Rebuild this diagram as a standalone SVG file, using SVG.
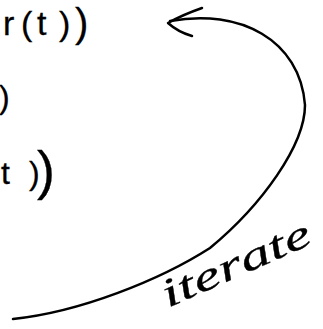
<svg xmlns="http://www.w3.org/2000/svg" width="323" height="329" viewBox="0 0 323 329">
<style>
.hand{font-family:"Liberation Sans","DejaVu Sans",sans-serif;fill:#000;stroke:#000;stroke-width:0.3}
.cur{font-family:"Liberation Serif","DejaVu Serif",serif;font-style:italic;fill:#000;stroke:#000;stroke-width:0.3}
.line{fill:none;stroke:#000;stroke-width:2.5;stroke-linecap:round;stroke-linejoin:round}
</style>
<rect width="323" height="329" fill="#fff"/>
<g id="expr-top">
<text class="hand" font-size="34" x="3 21 37 59" y="35">r(t)<tspan font-size="40" x="75" y="37">)</tspan></text>
</g>
<g id="expr-mid">
<text class="hand" font-size="32" x="-1" y="108">)</text>
</g>
<g id="expr-bottom">
<text class="hand" font-size="32" x="1 29" y="184">t)<tspan font-size="54" x="37" y="189">)</tspan></text>
</g>
<g id="connectors">
<path class="line" d="M 170,21 C 240,8 300,40 305,105 C 305,145 262,205 210,248 C 160,280 80,312 13,319"/>
<path class="line" d="M 202,8 Q 182,15 168,23 Q 178,32 192,36"/>
</g>
<g id="label-iterate">
<text class="cur" font-size="40" textLength="160" lengthAdjust="spacingAndGlyphs" transform="translate(168,308) rotate(-24)">iterate</text>
</g>
</svg>
